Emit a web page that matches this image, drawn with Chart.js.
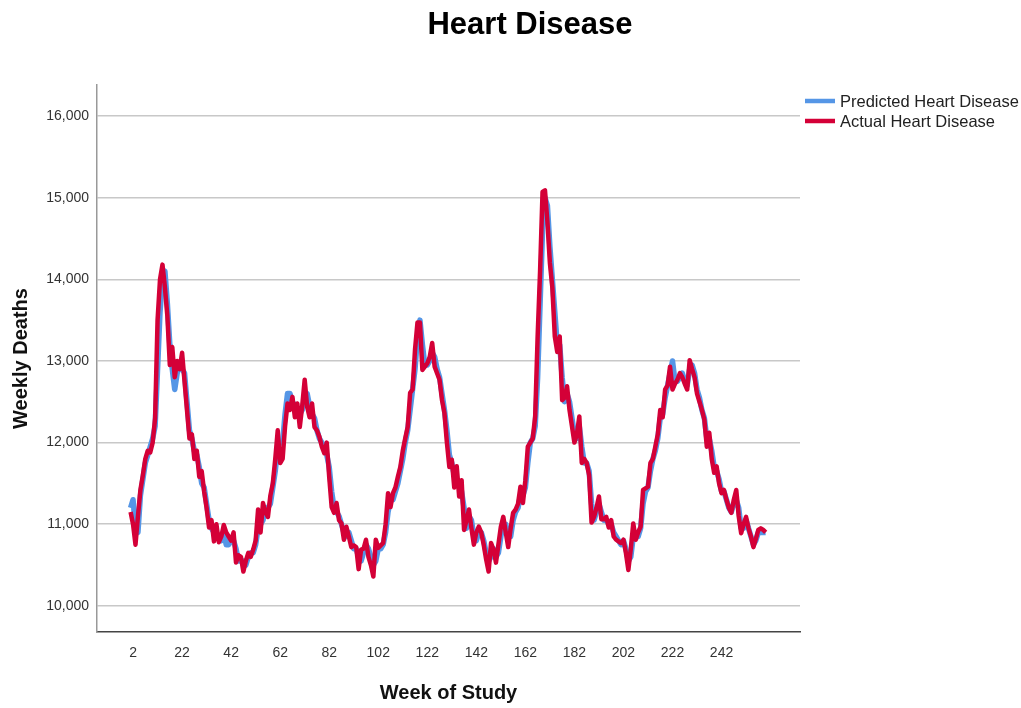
<!DOCTYPE html>
<html>
<head>
<meta charset="utf-8">
<script src="https://cdn.jsdelivr.net/npm/chart.js@4.4.1/dist/chart.umd.min.js"></script>
<style>
  html, body { margin: 0; padding: 0; background: #fff; }
  canvas { display: block; }
</style>
</head>
<body>
<canvas id="heartChart" width="1021" height="708"></canvas>
<script>
// Weekly deaths, weeks 1..260
const actualDeaths = [
  11150, 11000, 10750, 11100, 11420, 11600, 11800, 11900, 11880, 12000,
  12300, 13500, 14000, 14180, 13900, 13550, 12950, 13170, 12800, 13000,
  12900, 13100, 12750, 12400, 12050, 12100, 11800, 11900, 11580, 11650,
  11400, 11200, 10960, 11050, 10790, 11000, 10780, 10850, 10990, 10900,
  10850, 10800, 10900, 10530, 10620, 10600, 10420, 10550, 10650, 10600,
  10690, 10800, 11180, 10900, 11260, 11150, 11090, 11350, 11500, 11800,
  12150, 11750, 11800, 12200, 12480, 12400, 12560, 12310, 12480, 12190,
  12450, 12770, 12440, 12310, 12480, 12190, 12150, 12070, 11950, 11870,
  12000, 11580, 11210, 11140, 11260, 11050, 11010, 10810, 10970, 10850,
  10720, 10740, 10720, 10450, 10690, 10700, 10810, 10600, 10500, 10360,
  10810, 10710, 10740, 10770, 11000, 11380, 11210, 11380, 11450, 11580,
  11700, 11900, 12050, 12190, 12610, 12650, 13140, 13470, 13470, 12890,
  12930, 12970, 13050, 13220, 12930, 12850, 12770, 12520, 12360, 12000,
  11700, 11790, 11450, 11710, 11340, 11540, 10930, 11050, 11180, 10950,
  10750, 10900, 10970, 10900, 10750, 10570, 10420, 10770, 10690, 10530,
  10750, 10970, 11090, 10900, 10720, 10950, 11140, 11180, 11250, 11460,
  11260, 11540, 11950, 12000, 12050, 12320, 13300, 14100, 15070, 15090,
  14700, 14200, 13900, 13300, 13110, 13300, 12520, 12550, 12690, 12400,
  12200, 12000, 12100, 12320, 11750, 11800, 11750, 11600, 11020, 11090,
  11200, 11340, 11060, 11060, 11090, 10960, 11050, 10850, 10810, 10790,
  10770, 10810, 10650, 10440, 10700, 11010, 10810, 10900, 10970, 11420,
  11440, 11460, 11750, 11800, 11950, 12100, 12400, 12310, 12650, 12700,
  12930, 12650, 12720, 12770, 12850, 12800, 12720, 12650, 13010, 12900,
  12800, 12600, 12500, 12400, 12280, 11950, 12120, 11800, 11630, 11710,
  11500, 11380, 11420, 11300, 11200, 11140, 11300, 11420, 11100, 10890,
  11000, 11090, 10950, 10850, 10720, 10820, 10930, 10950, 10930, 10900
];

const predictedDeaths = [
  11200, 11300, 10950, 10900, 11350, 11550, 11750, 11850, 11950, 12050,
  12200, 12900, 13600, 14000, 14100, 13700, 13200, 12900, 12650, 12850,
  12950, 12900, 12850, 12500, 12150, 12050, 11900, 11850, 11700, 11500,
  11450, 11250, 11050, 10950, 10900, 10850, 10850, 10800, 10900, 10750,
  10750, 10800, 10800, 10700, 10550, 10550, 10550, 10500, 10600, 10650,
  10650, 10750, 10950, 11000, 11050, 11200, 11200, 11250, 11450, 11650,
  11950, 12000, 12000, 12350, 12600, 12600, 12500, 12450, 12400, 12350,
  12400, 12550, 12600, 12450, 12350, 12300, 12150, 12050, 12000, 11950,
  11850, 11700, 11400, 11200, 11150, 11100, 11000, 10900, 10850, 10900,
  10800, 10700, 10700, 10600, 10550, 10650, 10750, 10700, 10600, 10500,
  10550, 10700, 10700, 10750, 10900, 11150, 11300, 11300, 11400, 11500,
  11650, 11800, 12000, 12150, 12400, 12650, 12900, 13300, 13500, 13200,
  12950, 12950, 13000, 13100, 13050, 12900, 12800, 12600, 12400, 12150,
  11850, 11750, 11600, 11550, 11500, 11400, 11200, 10950, 11100, 11050,
  10850, 10800, 10900, 10900, 10800, 10650, 10550, 10600, 10700, 10600,
  10650, 10850, 11000, 11000, 10850, 10850, 11050, 11150, 11200, 11350,
  11350, 11450, 11750, 12000, 12050, 12200, 12800, 13700, 14600, 15000,
  14900, 14400, 14000, 13600, 13200, 13200, 12800, 12500, 12600, 12500,
  12300, 12100, 12050, 12200, 11950, 11750, 11750, 11650, 11250, 11050,
  11150, 11250, 11150, 11050, 11050, 11000, 11000, 10900, 10850, 10800,
  10750, 10800, 10700, 10550, 10600, 10850, 10900, 10850, 10950, 11250,
  11400, 11450, 11650, 11800, 11900, 12050, 12300, 12350, 12550, 12700,
  12850, 13000, 12750, 12750, 12800, 12850, 12750, 12700, 12900, 12950,
  12850, 12650, 12550, 12400, 12300, 12050, 12050, 11900, 11700, 11650,
  11550, 11400, 11400, 11300, 11200, 11150, 11250, 11300, 11200, 10950,
  10950, 11050, 10950, 10850, 10750, 10800, 10900, 10900, 10900, 10900
];

const weekTicks = [2, 22, 42, 62, 82, 102, 122, 142, 162, 182, 202, 222, 242];
const deathTicks = [10000, 11000, 12000, 13000, 14000, 15000, 16000];

const seriesNames = ['Predicted Heart Disease', 'Actual Heart Disease'];
const BLUE = 'rgb(85, 150, 230)';
const RED = 'rgb(212, 0, 55)';
const FONT = '"Liberation Sans", Arial, sans-serif';

// week number = position in the array + 1
const toPoints = arr => arr.map((v, i) => ({ x: i + 1, y: v }));

// title and legend drawn at fixed spots, like the SPSS output
const decorPlugin = {
  id: 'decor',
  afterDraw(chart) {
    const ctx = chart.ctx;
    ctx.save();
    ctx.fillStyle = '#000';
    ctx.font = 'bold 31px ' + FONT;
    ctx.textAlign = 'center';
    ctx.textBaseline = 'middle';
    ctx.fillText('Heart Disease', 530, 25);

    const colors = [BLUE, RED];
    ctx.font = '16.5px ' + FONT;
    ctx.textAlign = 'left';
    seriesNames.forEach((name, i) => {
      const y = 101 + i * 20;
      ctx.strokeStyle = colors[i];
      ctx.lineWidth = 4.5;
      ctx.beginPath();
      ctx.moveTo(805, y);
      ctx.lineTo(835, y);
      ctx.stroke();
      ctx.fillStyle = '#222';
      ctx.fillText(name, 840, y + 1);
    });
    ctx.restore();
  }
};

new Chart(document.getElementById('heartChart'), {
  type: 'line',
  data: {
    datasets: [
      {
        label: seriesNames[1],
        data: toPoints(actualDeaths),
        borderColor: RED,
        borderWidth: 4.5,
        borderJoinStyle: 'round',
        pointRadius: 0,
        tension: 0,
        order: 1
      },
      {
        label: seriesNames[0],
        data: toPoints(predictedDeaths),
        borderColor: BLUE,
        borderWidth: 5.5,
        borderJoinStyle: 'round',
        pointRadius: 0,
        tension: 0,
        order: 2
      }
    ]
  },
  options: {
    responsive: false,
    animation: false,
    layout: { padding: { left: 8, top: 85, right: 221, bottom: 3 } },
    plugins: {
      legend: { display: false },
      tooltip: { enabled: false }
    },
    scales: {
      x: {
        type: 'linear',
        min: -12.7,
        max: 274,
        afterBuildTicks: axis => { axis.ticks = weekTicks.map(v => ({ value: v })); },
        afterFit: axis => { axis.height = 73; },
        grid: { display: false },
        border: { color: '#444', width: 1.5 },
        ticks: {
          color: '#333',
          padding: 5,
          maxRotation: 0,
          autoSkip: false,
          font: { family: FONT, size: 14 }
        },
        title: {
          display: true,
          text: 'Week of Study',
          color: '#111',
          padding: { top: 0, bottom: 0 },
          font: { family: FONT, size: 20, weight: 'bold' }
        }
      },
      y: {
        min: 9680,
        max: 16380,
        afterBuildTicks: axis => { axis.ticks = deathTicks.map(v => ({ value: v })); },
        afterFit: axis => { axis.width = 89; },
        grid: { color: '#c8c8c8', lineWidth: 1.5, drawTicks: false },
        border: { color: '#999', width: 1.5 },
        ticks: {
          color: '#333',
          padding: 8,
          font: { family: FONT, size: 14 },
          callback: v => v.toLocaleString('en-US')
        },
        title: {
          display: true,
          text: 'Weekly Deaths',
          color: '#111',
          padding: { top: 1, bottom: 13 },
          font: { family: FONT, size: 20, weight: 'bold' }
        }
      }
    }
  },
  plugins: [decorPlugin]
});
</script>
</body>
</html>
